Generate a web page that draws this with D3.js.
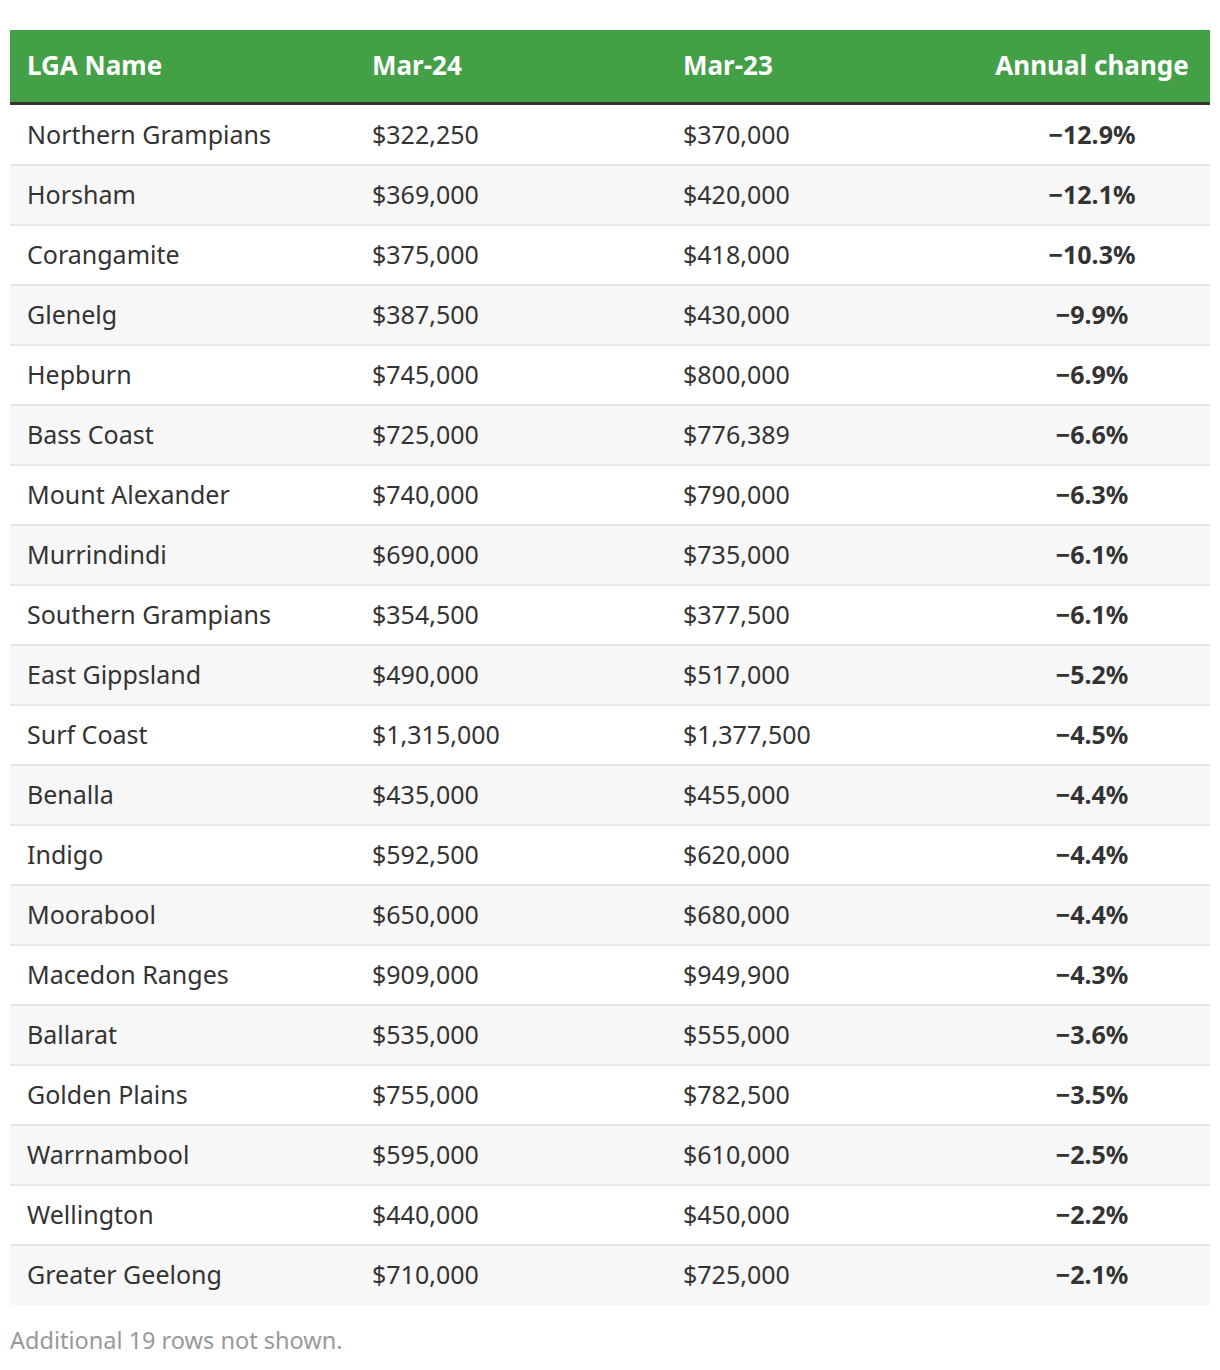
<!DOCTYPE html>
<html><head><meta charset="utf-8">
<script src="https://cdn.jsdelivr.net/npm/d3@7"></script>
<style>
body{margin:0;background:#fff;}
svg text{font-family:"Noto Sans",sans-serif;}
</style></head>
<body><div id="chart"></div>
<script>
const headers = ["LGA Name","Mar-24","Mar-23","Annual change"];
const names = ["Northern Grampians","Horsham","Corangamite","Glenelg","Hepburn","Bass Coast","Mount Alexander","Murrindindi","Southern Grampians","East Gippsland","Surf Coast","Benalla","Indigo","Moorabool","Macedon Ranges","Ballarat","Golden Plains","Warrnambool","Wellington","Greater Geelong"];
const mar24 = [322250,369000,375000,387500,745000,725000,740000,690000,354500,490000,1315000,435000,592500,650000,909000,535000,755000,595000,440000,710000];
const mar23 = [370000,420000,418000,430000,800000,776389,790000,735000,377500,517000,1377500,455000,620000,680000,949900,555000,782500,610000,450000,725000];
const change = [-12.9,-12.1,-10.3,-9.9,-6.9,-6.6,-6.3,-6.1,-6.1,-5.2,-4.5,-4.4,-4.4,-4.4,-4.3,-3.6,-3.5,-2.5,-2.2,-2.1];
const footer = "Additional 19 rows not shown.";

const W = 1220, H = 1370;
const left = 10, right = 1210, headTop = 30, headH = 72, borderH = 4, rowH = 60;
const bodyTop = headTop + headH + borderH - 1;

const svg = d3.select("#chart").append("svg").attr("width", W).attr("height", H);

const y = d3.scaleBand().domain(d3.range(names.length)).range([bodyTop, bodyTop + rowH * names.length]).padding(0);

const money = v => "$" + d3.format(",")(v);
const pct = v => "\u2212" + Math.abs(v).toFixed(1) + "%";

// header
svg.append("rect").attr("x", left).attr("y", headTop).attr("width", right - left).attr("height", headH).attr("fill", "#43a047");
svg.append("rect").attr("x", left).attr("y", headTop + headH).attr("width", right - left).attr("height", borderH).attr("fill", "#333333");

const colX = [27, 372, 683, 1092];
const anchors = ["start","start","start","middle"];

svg.selectAll("text.h").data(headers).join("text").attr("class","h")
  .attr("x", (d,i) => colX[i]).attr("y", headTop + 45)
  .attr("text-anchor", (d,i) => anchors[i])
  .attr("fill", "#ffffff").attr("font-weight", 700).attr("font-size", 26)
  .text(d => d);

const rows = svg.selectAll("g.row").data(names).join("g").attr("class","row")
  .attr("transform", (d,i) => `translate(0,${y(i)})`);

rows.append("rect").attr("x", left).attr("width", right - left).attr("height", y.bandwidth())
  .attr("fill", (d,i) => i % 2 ? "#f7f7f7" : "#ffffff");
rows.filter((d,i) => i > 0).append("rect").attr("x", left).attr("width", right - left).attr("y", -1).attr("height", 2).attr("fill", "#e6e6e6");

const rowText = (g, txt, i, opts) => g.append("text")
  .attr("x", colX[i]).attr("y", rowH/2 + 8.5)
  .attr("text-anchor", anchors[i]).attr("fill", "#333333")
  .attr("font-size", 25).attr("font-weight", opts || 400).text(txt);

rows.each(function(d, i){
  const g = d3.select(this);
  rowText(g, d, 0);
  rowText(g, money(mar24[i]), 1);
  rowText(g, money(mar23[i]), 2);
  rowText(g, pct(change[i]), 3, 700);
});

svg.append("text").attr("x", left).attr("y", bodyTop + rowH * names.length + 44)
  .attr("fill", "#999999").attr("font-size", 23.5).text(footer);
</script></body></html>
